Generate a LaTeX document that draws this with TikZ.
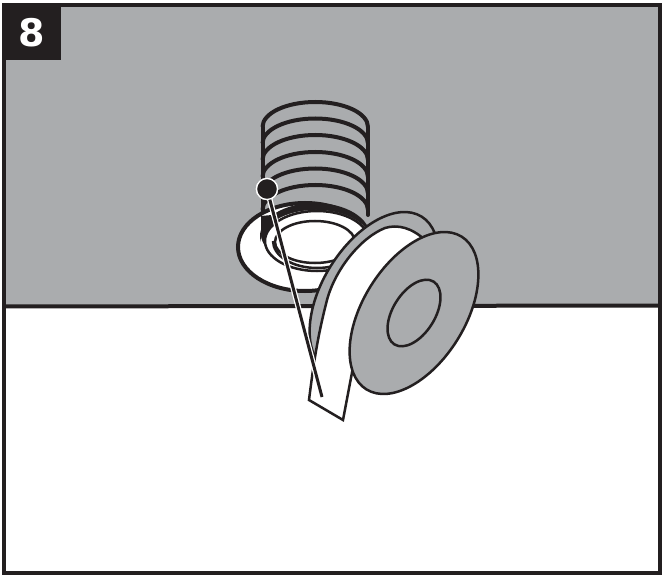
\documentclass[tikz,border=0pt]{standalone}
\usepackage{fontspec}
\usepackage{xcolor}
\usetikzlibrary{arrows.meta,positioning}
\newfontfamily\badgefont{DejaVu Sans}
\definecolor{PanelGray}{HTML}{AAACAE}
\definecolor{InkDark}{HTML}{231F20}
\begin{document}
\begin{tikzpicture}[
  x=1pt,y=-1pt,
  ink/.style={draw=InkDark,line width=2.5pt},
  heavy/.style={draw=InkDark,line width=4pt},
  flangepart/.style={ink,fill=PanelGray},
  badge/.style={fill=InkDark,text=white,inner sep=0pt,minimum width=58pt,minimum height=56pt,
                font=\badgefont\bfseries\fontsize{38}{38}\selectfont},
  ball/.style={circle,fill=InkDark,draw=white,line width=1.3pt,minimum size=21pt,inner sep=0pt}
]
  \useasboundingbox (0,0) rectangle (662,575);
  \fill[white] (0,0) rectangle (662,575);
  \fill[PanelGray] (4,5) rectangle (660,306);
  \draw[heavy] (4,306.5) -- (660,305.5);

  \draw[heavy,line cap=round] (262.5,127) -- (262.5,215);
  \draw[heavy,line cap=round] (368,127) -- (368,215);
  \foreach \ty in {102,118.5,135,152,168.5,185}
    \draw[heavy] (262.5,\ty+25) arc[start angle=180,end angle=0,x radius=52.75pt,y radius=25pt];

  \draw[heavy,fill=white] (305,247) ellipse[x radius=67pt,y radius=44pt];
  \fill[InkDark] (315,236) ellipse[x radius=55pt,y radius=33pt];
  \fill[white] (316,242) ellipse[x radius=55pt,y radius=32pt];
  \fill[InkDark] (261,216) -- (261,235) .. controls (262,245) and (268,251) .. (277,256)
    .. controls (268,245) and (268,225) .. (283,214) -- cycle;
  \draw[InkDark,line width=2.5pt,fill=white] (317,241) ellipse[x radius=52pt,y radius=30pt];
  \draw[InkDark,line width=2.5pt] (273,241) arc[start angle=180,end angle=360,x radius=44pt,y radius=27pt];
  \draw[InkDark,line width=2.5pt,fill=white] (315,242) ellipse[x radius=40pt,y radius=21pt];

  \draw[flangepart,shift={(374,293)},rotate=58] (0,0) ellipse[x radius=90pt,y radius=51pt];
  \draw[ink,fill=white] (425,240) .. controls (412,228) and (398,224) .. (385,228)
    .. controls (360,238) and (335,270) .. (327,300)
    .. controls (318,335) and (314,360) .. (309,400)
    -- (343,420) -- (354,362) -- (440,300) -- cycle;
  \draw[flangepart,shift={(414,313)},rotate=58] (0,0) ellipse[x radius=90pt,y radius=51pt];
  \draw[flangepart,shift={(414,313)},rotate=58] (0,0) ellipse[x radius=37pt,y radius=21pt];

  \node[ball] (pin) at (267,189) {};
  \coordinate (pintip) at (322,397);
  \draw[white,line width=5.5pt] (pin.center) -- (pintip);
  \draw[InkDark,line width=3pt] (pin.center) -- (pintip);
  \node[ball] at (267,189) {};

  \draw[InkDark,line width=3.5pt] (4,5) rectangle (660,573);
  \node[badge,anchor=north west] (stepno) at (3,4) {8};
\end{tikzpicture}
\end{document}
